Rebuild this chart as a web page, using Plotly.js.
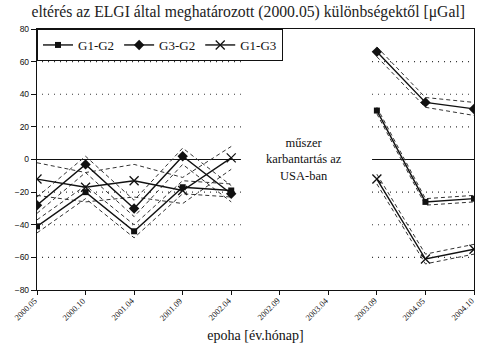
<!DOCTYPE html>
<html>
<head>
<meta charset="utf-8">
<script src="https://cdn.plot.ly/plotly-3.0.1.min.js"></script>
<style>html,body{margin:0;padding:0;background:#fff;}#chart{width:482px;height:356px;}</style>
</head>
<body>
<div id="chart"></div>
<script>
// categories (epochs)
const epochs = ["2000.05","2000.10","2001.04","2001.09","2002.04","2002.09","2003.04","2003.09","2004.05","2004.10"];
// series values [µGal]
const g1g2 = [-41, -20, -44, -17, -19, null, null, 30, -26, -24];
const g3g2 = [-28, -3, -30, 2, -21, null, null, 66, 35, 31];
const g1g3 = [-12, -17, -13, -19, 1, null, null, -12, -61, -55];
// uncertainty half-widths (dashed lines)
const g1g2Err = [4, 4, 4, 4, 4, null, null, 2, 2, 2];
const g3g2Err = [5, 5, 5, 5, 5, null, null, 3, 3, 4];
const g1g3Err = [10, 9, 10, 8, 7, null, null, 3, 3, 3];
// y tick values
const yTicks = [-80, -60, -40, -20, 0, 20, 40, 60, 80];
const seriesNames = ["G1-G2", "G3-G2", "G1-G3"];
const noteText = "műszer<br>karbantartás az<br>USA-ban";

function band(vals, errs, sign) {
  return vals.map((v, i) => (v === null || errs[i] === null) ? null : v + sign * errs[i]);
}

const series = [
  {name: seriesNames[0], y: g1g2, err: g1g2Err, symbol: "square", size: 6, lw: 0},
  {name: seriesNames[1], y: g3g2, err: g3g2Err, symbol: "diamond", size: 8, lw: 0},
  {name: seriesNames[2], y: g1g3, err: g1g3Err, symbol: "x-thin-open", size: 9, lw: 1.3}
];

const traces = [];
series.forEach(s => {
  [1, -1].forEach(sign => {
    traces.push({
      x: epochs, y: band(s.y, s.err, sign), type: "scatter", mode: "lines",
      line: {color: "#333", width: 1, dash: "4px,3px"}, showlegend: false, hoverinfo: "skip",
      connectgaps: false
    });
  });
});
series.forEach(s => {
  traces.push({
    x: epochs, y: s.y, name: s.name, type: "scatter", mode: "lines+markers",
    line: {color: "#111", width: 1.4}, connectgaps: false,
    marker: {symbol: s.symbol, size: s.size, color: "#111", line: {color: "#111", width: s.lw}}
  });
});

const shapes = [];
const segs = [[-0.02, 4.2], [6.9, 9]];
yTicks.filter(v => v !== 80 && v !== -80).forEach(v => {
  segs.forEach(sg => {
    shapes.push({
      type: "line", xref: "x", yref: "y", x0: sg[0], x1: sg[1], y0: v, y1: v,
      line: v === 0 ? {color: "#111", width: 1.2} : {color: "#333", width: 1.2, dash: "1px,5px"},
      layer: "below"
    });
  });
});

// rotated category labels
const annotations = epochs.map((e, i) => ({
  xref: "x", yref: "paper", x: i, y: 0, text: e, showarrow: false, textangle: -45,
  xanchor: "right", yanchor: "top", xshift: 5, yshift: -3,
  font: {family: "Liberation Serif, serif", size: 8.5, color: "#111"}
}));
annotations.push({
  xref: "x", yref: "y", x: 5.5, y: 0, text: noteText, showarrow: false,
  font: {family: "Liberation Serif, serif", size: 12.5, color: "#111"}, align: "center"
});

const layout = {
  width: 482, height: 356,
  margin: {l: 37, r: 8, t: 29, b: 66},
  paper_bgcolor: "#fff", plot_bgcolor: "#fff",
  title: {text: "eltérés az ELGI által meghatározott (2000.05) különbségektől [μGal]",
          font: {family: "Liberation Serif, serif", size: 15.7, color: "#222", weight: "normal"},
          x: 0.515, xanchor: "center", y: 0.967, yanchor: "middle"},
  xaxis: {
    type: "category", categoryorder: "array", categoryarray: epochs,
    range: [0, 9], showgrid: false, zeroline: false,
    showline: true, linecolor: "#111", linewidth: 1.2, mirror: true,
    ticks: "outside", ticklen: 4, tickcolor: "#111", showticklabels: false,
    title: {text: "epoha [év.hónap]", font: {family: "Liberation Serif, serif", size: 14, color: "#111"}, standoff: 36}
  },
  yaxis: {
    range: [-80, 80], tickvals: yTicks, showgrid: false, zeroline: false,
    showline: true, linecolor: "#111", linewidth: 1.2, mirror: true,
    ticks: "outside", ticklen: 5, tickcolor: "#111",
    tickfont: {family: "Liberation Sans, Arial, sans-serif", size: 8.5, color: "#111"}
  },
  legend: {
    orientation: "h", x: 0, y: 1, xanchor: "left", yanchor: "top",
    bordercolor: "#111", borderwidth: 1, bgcolor: "#fff",
    font: {family: "Liberation Serif, serif", size: 13, color: "#111"},
    itemwidth: 30, traceorder: "normal", tracegroupgap: 0
  },
  shapes: shapes,
  annotations: annotations,
  showlegend: true
};

Plotly.newPlot("chart", traces, layout, {displayModeBar: false, staticPlot: true});
</script>
</body>
</html>
